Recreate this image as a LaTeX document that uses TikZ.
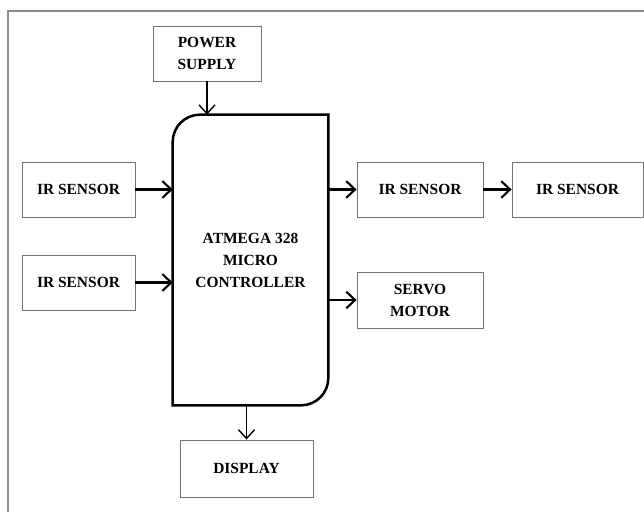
\documentclass[tikz,border=0pt]{standalone}
\usepackage{fontspec}
\setmainfont{Liberation Serif}
\usetikzlibrary{arrows.meta}

\begin{document}
\begin{tikzpicture}[x=0.025cm, y=0.025cm,
  box/.style={draw=black!55, line width=0.6pt, fill=white, align=center, inner sep=0pt,
    font=\fontsize{11}{15.6}\selectfont\bfseries, minimum height=1.375cm},
  arr/.style={draw, line width=1.7pt, -{Straight Barb[length=2.2mm, width=4.2mm, line width=1.5pt]}},
  thinarr/.style={draw, line width=1pt, -{Straight Barb[length=2.2mm, width=4mm, line width=1pt]}}]
\useasboundingbox (0,0) rectangle (644,512);
\draw[black!45, line width=1pt] (8,0) -- (8,501) -- (644,501);

\node[box, minimum width=2.7cm] (power) at (207,458.5) {POWER\\SUPPLY};
\node[align=center, inner sep=0pt, minimum width=3.875cm, minimum height=7.25cm,
  font=\fontsize{11}{15.6}\selectfont\bfseries] (mcu) at (250.5,252) {ATMEGA 328\\MICRO\\CONTROLLER};
\node[box, minimum width=2.825cm] (irl1) at (78.5,322.5) {IR SENSOR};
\node[box, minimum width=2.825cm] (irl2) at (78.5,229.5) {IR SENSOR};
\node[box, minimum width=3.15cm] (irr1) at (420,322.5) {IR SENSOR};
\node[box, minimum width=3.275cm] (irr2) at (577.5,322.5) {IR SENSOR};
\node[box, minimum width=3.15cm, minimum height=1.4cm] (servo) at (420,212) {SERVO\\MOTOR};
\node[box, minimum width=3.325cm, minimum height=1.425cm] (disp) at (246.5,43.5) {DISPLAY};

% controller outline
\draw[line width=1.8pt] (mcu.south west) -- ([yshift=-0.68cm]mcu.north west)
  arc[start angle=180, end angle=90, radius=0.68cm] -- (mcu.north east)
  -- ([yshift=0.68cm]mcu.south east)
  arc[start angle=0, end angle=-90, radius=0.68cm] -- cycle;

\path[thinarr] (power.south) -- (power.south |- mcu.north);
\path[thinarr] (mcu.south -| disp.north) -- (disp.north);
\path[arr] (irl1.east) -- (irl1 -| mcu.west);
\path[arr] (irl2.east) -- (irl2 -| mcu.west);
\path[arr] (irr1 -| mcu.east) -- (irr1.west);
\path[arr] (irr1.east) -- (irr2.west);
\path[arr] (servo -| mcu.east) -- (servo.west);
\end{tikzpicture}
\end{document}
